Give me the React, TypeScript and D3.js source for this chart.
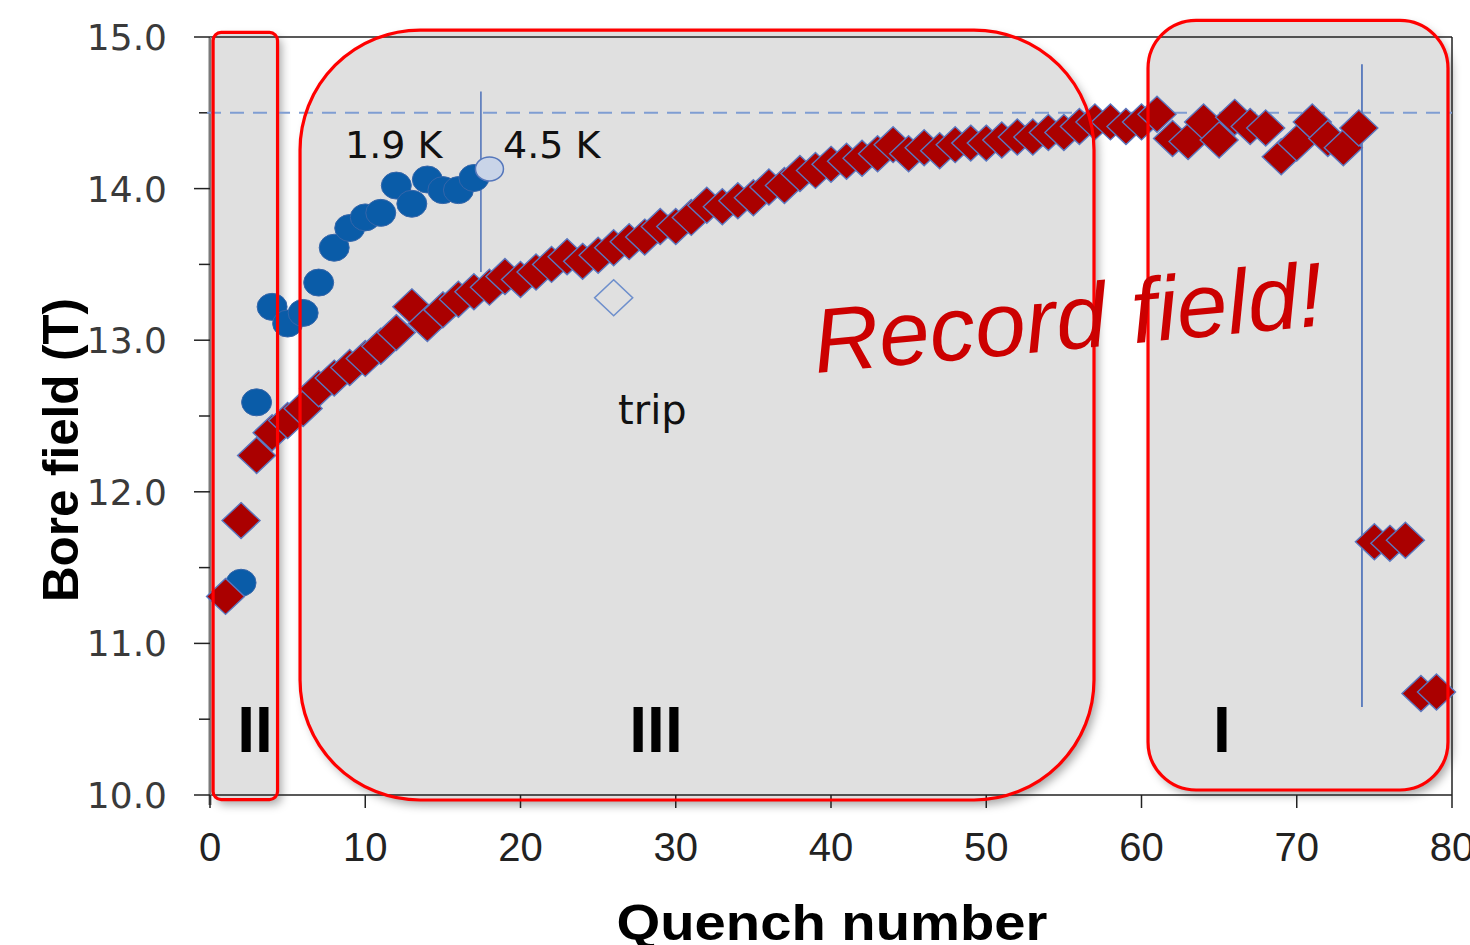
import React from 'react';
import * as d3 from 'd3';

// main series (red diamonds), quench 1..79
const boreField = [
  11.31, 11.81, 12.24, 12.39, 12.47, 12.55, 12.68, 12.75, 12.82, 12.88,
  12.96, 13.05, 13.22, 13.11, 13.2, 13.27, 13.32, 13.35, 13.42, 13.4,
  13.45, 13.5, 13.55, 13.52, 13.56, 13.61, 13.65, 13.68, 13.75, 13.75,
  13.81, 13.89, 13.88, 13.92, 13.94, 14.01, 14.02, 14.1, 14.12, 14.16,
  14.18, 14.2, 14.23, 14.29, 14.23, 14.27, 14.25, 14.29, 14.3, 14.3,
  14.32, 14.34, 14.34, 14.37, 14.37, 14.41, 14.44, 14.44, 14.41, 14.44,
  14.49, 14.33, 14.31, 14.44, 14.32, 14.47, 14.41, 14.4, 14.21, 14.3,
  14.44, 14.33, 14.27, 14.4, 11.67, 11.66, 11.68, 10.67, 10.68,
];

// 1.9 K series (blue circles)
const coldQuench = [2, 3, 4, 5, 6, 7, 8, 9, 10, 11, 12, 13, 14, 15, 16, 17];
const coldField = [11.4, 12.59, 13.22, 13.11, 13.18, 13.38, 13.61, 13.74, 13.81, 13.84, 14.02, 13.9, 14.06, 13.99, 13.99, 14.07];

// 4.5 K point and trip
const warmPoint = { q: 18, v: 14.13 };
const tripPoint = { q: 26, v: 13.28 };

// reference lines
const shortSample = 14.5;
const tempChange = { q: 17.45, from: 14.64, to: 13.45 };
const endMarker = { q: 74.2, from: 14.82, to: 10.58 };

// shaded regions
const regions = [
  { label: 'II', x0: 0.2, x1: 4.35, y0: 15.03, y1: 9.97, r: 8 },
  { label: 'III', x0: 5.8, x1: 56.94, y0: 15.046, y1: 9.967, r: 120 },
  { label: 'I', x0: 60.42, x1: 79.74, y0: 15.11, y1: 10.033, r: 48 },
];

const xTicks = [0, 10, 20, 30, 40, 50, 60, 70, 80];
const yTicks = [10, 11, 12, 13, 14, 15];
const yMinor = [10.5, 11.5, 12.5, 13.5, 14.5];

const W = 1470;
const H = 945;

export default function App() {
  const x = d3.scaleLinear().domain([0, 80]).range([210, 1452]);
  const y = d3.scaleLinear().domain([10, 15]).range([795, 37]);

  const diamond = (cx: number, cy: number) =>
    `M${cx},${cy - 18}L${cx + 19},${cy}L${cx},${cy + 18}L${cx - 19},${cy}Z`;

  const boxes = regions.map((r) => ({
    ...r,
    px: x(r.x0),
    py: y(r.y0),
    w: x(r.x1) - x(r.x0),
    h: y(r.y1) - y(r.y0),
  }));

  const labelX: Record<string, number> = { II: 255, III: 656, I: 1222 };

  return (
    <svg width={W} height={H} style={{ position: 'absolute', left: 0, top: 0, background: '#fff' }}>
      <defs>
        <filter id="shadow" x="-10%" y="-10%" width="130%" height="130%">
          <feDropShadow dx="4" dy="5" stdDeviation="5" floodColor="#000" floodOpacity="0.35" />
        </filter>
      </defs>

      {/* region fills */}
      {boxes.map((b) => (
        <rect key={'f' + b.label} x={b.px} y={b.py} width={b.w} height={b.h} rx={b.r} ry={b.r}
          fill="#e0e0e0" filter="url(#shadow)" />
      ))}

      {/* frame */}
      <line x1={x(0)} x2={x(80)} y1={y(15)} y2={y(15)} stroke="#222" strokeWidth={1.5} />
      <line x1={x(80)} x2={x(80)} y1={y(15)} y2={y(10)} stroke="#222" strokeWidth={1.5} />
      <line x1={x(0)} x2={x(80)} y1={y(10)} y2={y(10)} stroke="#222" strokeWidth={1.5} />
      <line x1={x(0)} x2={x(0)} y1={y(15)} y2={y(10) + 10} stroke="#7a7a7a" strokeWidth={3} />

      {/* y ticks */}
      {yTicks.map((t) => (
        <g key={'y' + t}>
          <line x1={194} x2={x(0)} y1={y(t)} y2={y(t)} stroke="#222" strokeWidth={1.5} />
          <text x={167} y={y(t)} dy="0.36em" textAnchor="end" fontFamily="DejaVu Sans" fontSize={36} fill="#3a3a3a">
            {t.toFixed(1)}
          </text>
        </g>
      ))}
      {yMinor.map((t) => (
        <line key={'m' + t} x1={199} x2={x(0)} y1={y(t)} y2={y(t)} stroke="#222" strokeWidth={1.5} />
      ))}

      {/* x ticks */}
      {xTicks.map((t) => (
        <g key={'x' + t}>
          <line x1={x(t)} x2={x(t)} y1={y(10)} y2={y(10) + 13} stroke="#222" strokeWidth={1.5} />
          <text x={x(t)} y={861} textAnchor="middle" fontFamily="Liberation Sans" fontSize={40} fill="#222">
            {t}
          </text>
        </g>
      ))}

      {/* dashed short-sample line */}
      <line x1={x(0) - 3} x2={x(80)} y1={y(shortSample)} y2={y(shortSample)} stroke="#7f9dd2" strokeWidth={2} strokeDasharray="14,9" />

      {/* vertical markers */}
      <line x1={x(tempChange.q)} x2={x(tempChange.q)} y1={y(tempChange.from)} y2={y(tempChange.to)} stroke="#5577bb" strokeWidth={1.6} />
      <line x1={x(endMarker.q)} x2={x(endMarker.q)} y1={y(endMarker.from)} y2={y(endMarker.to)} stroke="#5577bb" strokeWidth={1.8} />

      {/* 1.9 K circles */}
      {coldQuench.map((q, i) => (
        <ellipse key={'c' + q} cx={x(q)} cy={y(coldField[i])} rx={15} ry={13.5} fill="#0a5ca8" stroke="#3566aa" strokeWidth={1} />
      ))}
      <ellipse cx={x(warmPoint.q)} cy={y(warmPoint.v)} rx={14} ry={12} fill="#c9d4e8" stroke="#5577bb" strokeWidth={1.5} />

      {/* main series diamonds */}
      {boreField.map((v, i) => (
        <path key={'d' + i} d={diamond(x(i + 1), y(v))} fill="#aa0000" stroke="#5a78c0" strokeWidth={1.4} />
      ))}

      {/* trip */}
      <path d={diamond(x(tripPoint.q), y(tripPoint.v))} fill="none" stroke="#6e8fcc" strokeWidth={1.6} />

      {/* region outlines */}
      {boxes.map((b) => (
        <rect key={'s' + b.label} x={b.px} y={b.py} width={b.w} height={b.h} rx={b.r} ry={b.r}
          fill="none" stroke="#ff0000" strokeWidth={3.2} />
      ))}

      {/* region labels */}
      {boxes.map((b) => (
        <text key={'l' + b.label} x={labelX[b.label]} y={752}
          textAnchor="middle" fontFamily="Liberation Sans" fontWeight="bold" fontSize={64} fill="#000">
          {b.label}
        </text>
      ))}

      {/* annotations */}
      <text x={345} y={158} fontFamily="DejaVu Sans" fontSize={38} fill="#111">1.9 K</text>
      <text x={503} y={158} fontFamily="DejaVu Sans" fontSize={38} fill="#111">4.5 K</text>
      <text x={618} y={424} fontFamily="DejaVu Sans" fontSize={40} fill="#111">trip</text>
      <text x={816} y={373} transform="rotate(-5.35 816 373)" fontFamily="Liberation Sans" fontStyle="italic"
        fontSize={91} fill="#cc0000" textLength={512} lengthAdjust="spacingAndGlyphs">
        Record field!
      </text>

      {/* axis titles */}
      <text transform="translate(78,450) rotate(-90)" textAnchor="middle" fontFamily="Liberation Sans" fontWeight="bold"
        fontSize={50} fill="#000" textLength={304} lengthAdjust="spacingAndGlyphs">
        Bore field (T)
      </text>
      <text x={832} y={940} textAnchor="middle" fontFamily="Liberation Sans" fontWeight="bold" fontSize={50}
        fill="#000" textLength={431} lengthAdjust="spacingAndGlyphs">
        Quench number
      </text>
    </svg>
  );
}
